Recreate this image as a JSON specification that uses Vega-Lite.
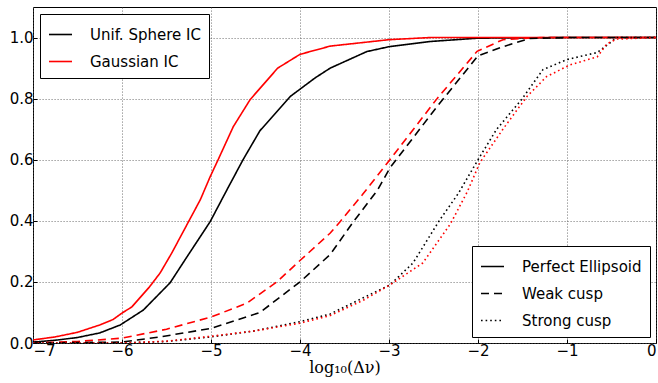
{
  "$schema": "https://vega.github.io/schema/vega-lite/v6.json",
  "width": 623,
  "height": 336,
  "autosize": "none",
  "padding": {"left": 33, "top": 7, "right": 2, "bottom": 40},
  "background": "white",
  "config": {
    "view": {"stroke": "black", "strokeWidth": 1},
    "font": "DejaVu Sans",
    "axis": {
      "labelFont": "DejaVu Sans",
      "labelFontSize": 15,
      "labelColor": "black",
      "domain": false,
      "gridColor": "#555",
      "gridDash": [1.2, 1.8],
      "gridWidth": 0.7,
      "gridOpacity": 1,
      "tickColor": "black",
      "tickSize": -4,
      "tickWidth": 1,
      "labelPadding": 4
    },
    "legend": {
      "strokeColor": "black",
      "fillColor": "white",
      "cornerRadius": 0,
      "padding": 8,
      "labelFont": "DejaVu Sans",
      "labelFontSize": 15,
      "labelColor": "black",
      "symbolType": "stroke",
      "symbolSize": 529,
      "symbolStrokeWidth": 1.6,
      "labelOffset": 17,
      "rowPadding": 6,
      "title": null
    }
  },
  "data": {
    "values": [
      {"x": -7, "y": 0.003, "ic": "Unif. Sphere IC", "model": "Perfect Ellipsoid"},
      {"x": -6.75, "y": 0.009, "ic": "Unif. Sphere IC", "model": "Perfect Ellipsoid"},
      {"x": -6.5, "y": 0.018, "ic": "Unif. Sphere IC", "model": "Perfect Ellipsoid"},
      {"x": -6.25, "y": 0.033, "ic": "Unif. Sphere IC", "model": "Perfect Ellipsoid"},
      {"x": -6.02, "y": 0.059, "ic": "Unif. Sphere IC", "model": "Perfect Ellipsoid"},
      {"x": -5.76, "y": 0.108, "ic": "Unif. Sphere IC", "model": "Perfect Ellipsoid"},
      {"x": -5.46, "y": 0.197, "ic": "Unif. Sphere IC", "model": "Perfect Ellipsoid"},
      {"x": -5.27, "y": 0.282, "ic": "Unif. Sphere IC", "model": "Perfect Ellipsoid"},
      {"x": -5.01, "y": 0.397, "ic": "Unif. Sphere IC", "model": "Perfect Ellipsoid"},
      {"x": -4.82, "y": 0.502, "ic": "Unif. Sphere IC", "model": "Perfect Ellipsoid"},
      {"x": -4.64, "y": 0.6, "ic": "Unif. Sphere IC", "model": "Perfect Ellipsoid"},
      {"x": -4.45, "y": 0.695, "ic": "Unif. Sphere IC", "model": "Perfect Ellipsoid"},
      {"x": -4.11, "y": 0.807, "ic": "Unif. Sphere IC", "model": "Perfect Ellipsoid"},
      {"x": -3.83, "y": 0.868, "ic": "Unif. Sphere IC", "model": "Perfect Ellipsoid"},
      {"x": -3.66, "y": 0.9, "ic": "Unif. Sphere IC", "model": "Perfect Ellipsoid"},
      {"x": -3.25, "y": 0.954, "ic": "Unif. Sphere IC", "model": "Perfect Ellipsoid"},
      {"x": -3.0, "y": 0.97, "ic": "Unif. Sphere IC", "model": "Perfect Ellipsoid"},
      {"x": -2.54, "y": 0.987, "ic": "Unif. Sphere IC", "model": "Perfect Ellipsoid"},
      {"x": -2.0, "y": 0.998, "ic": "Unif. Sphere IC", "model": "Perfect Ellipsoid"},
      {"x": -1, "y": 1.0, "ic": "Unif. Sphere IC", "model": "Perfect Ellipsoid"},
      {"x": 0, "y": 1.0, "ic": "Unif. Sphere IC", "model": "Perfect Ellipsoid"},

      {"x": -7, "y": 0.01, "ic": "Gaussian IC", "model": "Perfect Ellipsoid"},
      {"x": -6.75, "y": 0.02, "ic": "Gaussian IC", "model": "Perfect Ellipsoid"},
      {"x": -6.5, "y": 0.035, "ic": "Gaussian IC", "model": "Perfect Ellipsoid"},
      {"x": -6.25, "y": 0.059, "ic": "Gaussian IC", "model": "Perfect Ellipsoid"},
      {"x": -6.1, "y": 0.077, "ic": "Gaussian IC", "model": "Perfect Ellipsoid"},
      {"x": -6.0, "y": 0.098, "ic": "Gaussian IC", "model": "Perfect Ellipsoid"},
      {"x": -5.89, "y": 0.118, "ic": "Gaussian IC", "model": "Perfect Ellipsoid"},
      {"x": -5.69, "y": 0.184, "ic": "Gaussian IC", "model": "Perfect Ellipsoid"},
      {"x": -5.57, "y": 0.23, "ic": "Gaussian IC", "model": "Perfect Ellipsoid"},
      {"x": -5.44, "y": 0.295, "ic": "Gaussian IC", "model": "Perfect Ellipsoid"},
      {"x": -5.26, "y": 0.393, "ic": "Gaussian IC", "model": "Perfect Ellipsoid"},
      {"x": -5.12, "y": 0.469, "ic": "Gaussian IC", "model": "Perfect Ellipsoid"},
      {"x": -5.01, "y": 0.544, "ic": "Gaussian IC", "model": "Perfect Ellipsoid"},
      {"x": -4.92, "y": 0.6, "ic": "Gaussian IC", "model": "Perfect Ellipsoid"},
      {"x": -4.75, "y": 0.708, "ic": "Gaussian IC", "model": "Perfect Ellipsoid"},
      {"x": -4.56, "y": 0.797, "ic": "Gaussian IC", "model": "Perfect Ellipsoid"},
      {"x": -4.25, "y": 0.9, "ic": "Gaussian IC", "model": "Perfect Ellipsoid"},
      {"x": -4.0, "y": 0.945, "ic": "Gaussian IC", "model": "Perfect Ellipsoid"},
      {"x": -3.66, "y": 0.972, "ic": "Gaussian IC", "model": "Perfect Ellipsoid"},
      {"x": -3.0, "y": 0.993, "ic": "Gaussian IC", "model": "Perfect Ellipsoid"},
      {"x": -2.54, "y": 1.0, "ic": "Gaussian IC", "model": "Perfect Ellipsoid"},
      {"x": 0, "y": 1.0, "ic": "Gaussian IC", "model": "Perfect Ellipsoid"},

      {"x": -7, "y": 0.0, "ic": "Gaussian IC", "model": "Weak cusp"},
      {"x": -6.5, "y": 0.005, "ic": "Gaussian IC", "model": "Weak cusp"},
      {"x": -6, "y": 0.016, "ic": "Gaussian IC", "model": "Weak cusp"},
      {"x": -5.5, "y": 0.045, "ic": "Gaussian IC", "model": "Weak cusp"},
      {"x": -5, "y": 0.085, "ic": "Gaussian IC", "model": "Weak cusp"},
      {"x": -4.6, "y": 0.13, "ic": "Gaussian IC", "model": "Weak cusp"},
      {"x": -4.26, "y": 0.2, "ic": "Gaussian IC", "model": "Weak cusp"},
      {"x": -4, "y": 0.27, "ic": "Gaussian IC", "model": "Weak cusp"},
      {"x": -3.66, "y": 0.36, "ic": "Gaussian IC", "model": "Weak cusp"},
      {"x": -3.55, "y": 0.397, "ic": "Gaussian IC", "model": "Weak cusp"},
      {"x": -3.3, "y": 0.485, "ic": "Gaussian IC", "model": "Weak cusp"},
      {"x": -2.99, "y": 0.6, "ic": "Gaussian IC", "model": "Weak cusp"},
      {"x": -2.46, "y": 0.8, "ic": "Gaussian IC", "model": "Weak cusp"},
      {"x": -2.01, "y": 0.955, "ic": "Gaussian IC", "model": "Weak cusp"},
      {"x": -1.72, "y": 0.993, "ic": "Gaussian IC", "model": "Weak cusp"},
      {"x": -1.3, "y": 1.0, "ic": "Gaussian IC", "model": "Weak cusp"},
      {"x": 0, "y": 1.0, "ic": "Gaussian IC", "model": "Weak cusp"},

      {"x": -7, "y": 0.0, "ic": "Unif. Sphere IC", "model": "Weak cusp"},
      {"x": -6, "y": 0.003, "ic": "Unif. Sphere IC", "model": "Weak cusp"},
      {"x": -5.57, "y": 0.02, "ic": "Unif. Sphere IC", "model": "Weak cusp"},
      {"x": -5, "y": 0.048, "ic": "Unif. Sphere IC", "model": "Weak cusp"},
      {"x": -4.45, "y": 0.1, "ic": "Unif. Sphere IC", "model": "Weak cusp"},
      {"x": -4, "y": 0.2, "ic": "Unif. Sphere IC", "model": "Weak cusp"},
      {"x": -3.66, "y": 0.29, "ic": "Unif. Sphere IC", "model": "Weak cusp"},
      {"x": -3.4, "y": 0.397, "ic": "Unif. Sphere IC", "model": "Weak cusp"},
      {"x": -3.13, "y": 0.5, "ic": "Unif. Sphere IC", "model": "Weak cusp"},
      {"x": -2.99, "y": 0.573, "ic": "Unif. Sphere IC", "model": "Weak cusp"},
      {"x": -2.46, "y": 0.774, "ic": "Unif. Sphere IC", "model": "Weak cusp"},
      {"x": -2.0, "y": 0.94, "ic": "Unif. Sphere IC", "model": "Weak cusp"},
      {"x": -1.72, "y": 0.97, "ic": "Unif. Sphere IC", "model": "Weak cusp"},
      {"x": -1.42, "y": 0.997, "ic": "Unif. Sphere IC", "model": "Weak cusp"},
      {"x": -1, "y": 1.0, "ic": "Unif. Sphere IC", "model": "Weak cusp"},
      {"x": 0, "y": 1.0, "ic": "Unif. Sphere IC", "model": "Weak cusp"},

      {"x": -7, "y": 0.0, "ic": "Unif. Sphere IC", "model": "Strong cusp"},
      {"x": -6, "y": 0.0, "ic": "Unif. Sphere IC", "model": "Strong cusp"},
      {"x": -5.5, "y": 0.005, "ic": "Unif. Sphere IC", "model": "Strong cusp"},
      {"x": -5, "y": 0.02, "ic": "Unif. Sphere IC", "model": "Strong cusp"},
      {"x": -4.5, "y": 0.04, "ic": "Unif. Sphere IC", "model": "Strong cusp"},
      {"x": -4, "y": 0.07, "ic": "Unif. Sphere IC", "model": "Strong cusp"},
      {"x": -3.66, "y": 0.095, "ic": "Unif. Sphere IC", "model": "Strong cusp"},
      {"x": -3.29, "y": 0.148, "ic": "Unif. Sphere IC", "model": "Strong cusp"},
      {"x": -2.99, "y": 0.19, "ic": "Unif. Sphere IC", "model": "Strong cusp"},
      {"x": -2.73, "y": 0.262, "ic": "Unif. Sphere IC", "model": "Strong cusp"},
      {"x": -2.43, "y": 0.403, "ic": "Unif. Sphere IC", "model": "Strong cusp"},
      {"x": -2.22, "y": 0.49, "ic": "Unif. Sphere IC", "model": "Strong cusp"},
      {"x": -2.0, "y": 0.6, "ic": "Unif. Sphere IC", "model": "Strong cusp"},
      {"x": -1.79, "y": 0.7, "ic": "Unif. Sphere IC", "model": "Strong cusp"},
      {"x": -1.51, "y": 0.797, "ic": "Unif. Sphere IC", "model": "Strong cusp"},
      {"x": -1.27, "y": 0.895, "ic": "Unif. Sphere IC", "model": "Strong cusp"},
      {"x": -1.0, "y": 0.928, "ic": "Unif. Sphere IC", "model": "Strong cusp"},
      {"x": -0.66, "y": 0.951, "ic": "Unif. Sphere IC", "model": "Strong cusp"},
      {"x": -0.44, "y": 1.0, "ic": "Unif. Sphere IC", "model": "Strong cusp"},
      {"x": 0, "y": 1.0, "ic": "Unif. Sphere IC", "model": "Strong cusp"},

      {"x": -7, "y": 0.0, "ic": "Gaussian IC", "model": "Strong cusp"},
      {"x": -6, "y": 0.0, "ic": "Gaussian IC", "model": "Strong cusp"},
      {"x": -5.5, "y": 0.006, "ic": "Gaussian IC", "model": "Strong cusp"},
      {"x": -5, "y": 0.022, "ic": "Gaussian IC", "model": "Strong cusp"},
      {"x": -4.5, "y": 0.04, "ic": "Gaussian IC", "model": "Strong cusp"},
      {"x": -4, "y": 0.065, "ic": "Gaussian IC", "model": "Strong cusp"},
      {"x": -3.66, "y": 0.09, "ic": "Gaussian IC", "model": "Strong cusp"},
      {"x": -3.29, "y": 0.14, "ic": "Gaussian IC", "model": "Strong cusp"},
      {"x": -2.99, "y": 0.19, "ic": "Gaussian IC", "model": "Strong cusp"},
      {"x": -2.62, "y": 0.262, "ic": "Gaussian IC", "model": "Strong cusp"},
      {"x": -2.31, "y": 0.39, "ic": "Gaussian IC", "model": "Strong cusp"},
      {"x": -2.12, "y": 0.495, "ic": "Gaussian IC", "model": "Strong cusp"},
      {"x": -1.98, "y": 0.59, "ic": "Gaussian IC", "model": "Strong cusp"},
      {"x": -1.72, "y": 0.7, "ic": "Gaussian IC", "model": "Strong cusp"},
      {"x": -1.45, "y": 0.807, "ic": "Gaussian IC", "model": "Strong cusp"},
      {"x": -1.23, "y": 0.872, "ic": "Gaussian IC", "model": "Strong cusp"},
      {"x": -0.97, "y": 0.91, "ic": "Gaussian IC", "model": "Strong cusp"},
      {"x": -0.66, "y": 0.937, "ic": "Gaussian IC", "model": "Strong cusp"},
      {"x": -0.55, "y": 0.98, "ic": "Gaussian IC", "model": "Strong cusp"},
      {"x": -0.44, "y": 0.995, "ic": "Gaussian IC", "model": "Strong cusp"},
      {"x": 0, "y": 1.0, "ic": "Gaussian IC", "model": "Strong cusp"}
    ]
  },
  "mark": {"type": "line", "strokeWidth": 1.6, "clip": true},
  "encoding": {
    "x": {
      "field": "x", "type": "quantitative",
      "scale": {"domain": [-7, 0], "nice": false, "zero": false},
      "axis": {"values": [-7, -6, -5, -4, -3, -2, -1, 0], "format": "d", "title": "log₁₀(Δν)", "titleFont": "DejaVu Serif", "titleFontSize": 16, "titleFontWeight": "normal", "titleColor": "black", "titlePadding": 1}
    },
    "y": {
      "field": "y", "type": "quantitative",
      "scale": {"domain": [0, 1.1], "nice": false},
      "axis": {"values": [0, 0.2, 0.4, 0.6, 0.8, 1.0], "format": ".1f", "title": null}
    },
    "color": {
      "field": "ic", "type": "nominal",
      "scale": {"domain": ["Unif. Sphere IC", "Gaussian IC"], "range": ["black", "red"]},
      "legend": {"orient": "top-left", "offset": 7}
    },
    "strokeDash": {
      "field": "model", "type": "nominal",
      "scale": {"domain": ["Perfect Ellipsoid", "Weak cusp", "Strong cusp"], "range": [[1, 0], [8, 5], [1.6, 3]]},
      "legend": {"orient": "bottom-right", "offset": 6, "symbolStrokeColor": "black"}
    },
    "order": {"field": "x", "type": "quantitative"}
  }
}
